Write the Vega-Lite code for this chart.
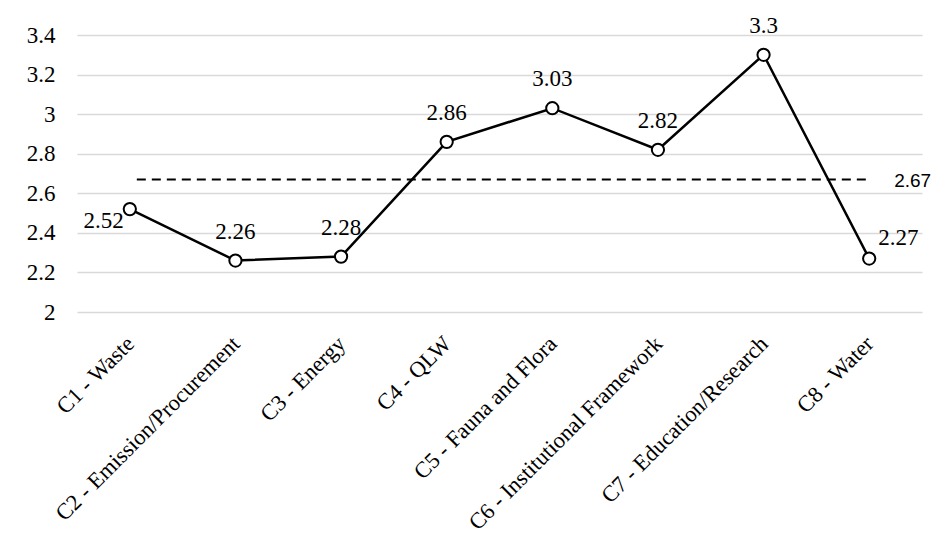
{
  "$schema": "https://vega.github.io/schema/vega-lite/v6.json",
  "width": 845,
  "height": 277,
  "autosize": {"type": "none"},
  "padding": {"left": 77, "top": 35, "right": 21, "bottom": 246},
  "background": "white",
  "config": {
    "view": {"stroke": null},
    "font": "Liberation Serif",
    "text": {"font": "Liberation Serif"},
    "axis": {"labelFont": "Liberation Serif"}
  },
  "data": {
    "values": [
      {"cat": "C1 - Waste", "value": 2.52, "pos": "left"},
      {"cat": "C2 - Emission/Procurement", "value": 2.26, "pos": "top"},
      {"cat": "C3 - Energy", "value": 2.28, "pos": "top"},
      {"cat": "C4 - QLW", "value": 2.86, "pos": "top"},
      {"cat": "C5 - Fauna and Flora", "value": 3.03, "pos": "top"},
      {"cat": "C6 - Institutional Framework", "value": 2.82, "pos": "top"},
      {"cat": "C7 - Education/Research", "value": 3.3, "pos": "top"},
      {"cat": "C8 - Water", "value": 2.27, "pos": "right"}
    ]
  },
  "encoding": {
    "x": {
      "field": "cat",
      "type": "nominal",
      "sort": null,
      "scale": {
        "domain": ["C1 - Waste", "C2 - Emission/Procurement", "C3 - Energy", "C4 - QLW", "C5 - Fauna and Flora", "C6 - Institutional Framework", "C7 - Education/Research", "C8 - Water"],
        "paddingInner": 0, "paddingOuter": 0
      },
      "axis": {
        "title": null,
        "labelAngle": -45,
        "labelFontSize": 22.5,
        "labelFont": "Liberation Serif",
        "labelColor": "#000000",
        "ticks": false,
        "domain": false,
        "labelPadding": 20,
        "labelOffset": -7,
        "labelLimit": 400
      }
    },
    "y": {
      "field": "value",
      "type": "quantitative",
      "scale": {"domain": [2, 3.4], "nice": false, "zero": false},
      "axis": {
        "title": null,
        "values": [2, 2.2, 2.4, 2.6, 2.8, 3, 3.2, 3.4],
        "format": ".1~f",
        "labelFontSize": 23,
        "labelFont": "Liberation Serif",
        "labelColor": "#000000",
        "ticks": false,
        "domain": false,
        "labelPadding": 22,
        "gridColor": "#d9d9d9",
        "gridWidth": 1.5
      }
    }
  },
  "layer": [
    {
      "mark": {"type": "line", "color": "#000000", "strokeWidth": 2.5}
    },
    {
      "data": {"values": [{"a": "C1 - Waste", "b": "C8 - Water", "mean": 2.67}]},
      "mark": {"type": "rule", "color": "#000000", "strokeWidth": 2, "strokeDash": [9, 6], "xOffset": 7, "x2Offset": 2},
      "encoding": {
        "x": {"field": "a", "type": "nominal"},
        "x2": {"field": "b"},
        "y": {"field": "mean", "type": "quantitative"}
      }
    },
    {
      "data": {"values": [{"a": "C8 - Water", "mean": 2.67}]},
      "mark": {"type": "text", "font": "Liberation Sans", "fontSize": 19, "align": "left", "baseline": "middle", "dx": 25, "dy": 2, "color": "#000000"},
      "encoding": {
        "x": {"field": "a", "type": "nominal"},
        "y": {"field": "mean", "type": "quantitative"},
        "text": {"field": "mean", "type": "quantitative", "format": ".2f"}
      }
    },
    {
      "mark": {"type": "point", "shape": "circle", "filled": true, "fill": "#ffffff", "stroke": "#000000", "strokeWidth": 2, "size": 150, "opacity": 1}
    },
    {
      "transform": [{"filter": "datum.pos == 'top'"}],
      "mark": {"type": "text", "font": "Liberation Serif", "fontSize": 23, "baseline": "alphabetic", "align": "center", "dy": -22, "color": "#000000"},
      "encoding": {"text": {"field": "value", "type": "quantitative", "format": "~g"}}
    },
    {
      "transform": [{"filter": "datum.pos == 'left'"}],
      "mark": {"type": "text", "font": "Liberation Serif", "fontSize": 23, "baseline": "middle", "align": "right", "dx": -6, "dy": 12, "color": "#000000"},
      "encoding": {"text": {"field": "value", "type": "quantitative", "format": "~g"}}
    },
    {
      "transform": [{"filter": "datum.pos == 'right'"}],
      "mark": {"type": "text", "font": "Liberation Serif", "fontSize": 23, "baseline": "alphabetic", "align": "left", "dx": 9, "dy": -14, "color": "#000000"},
      "encoding": {"text": {"field": "value", "type": "quantitative", "format": "~g"}}
    }
  ]
}
